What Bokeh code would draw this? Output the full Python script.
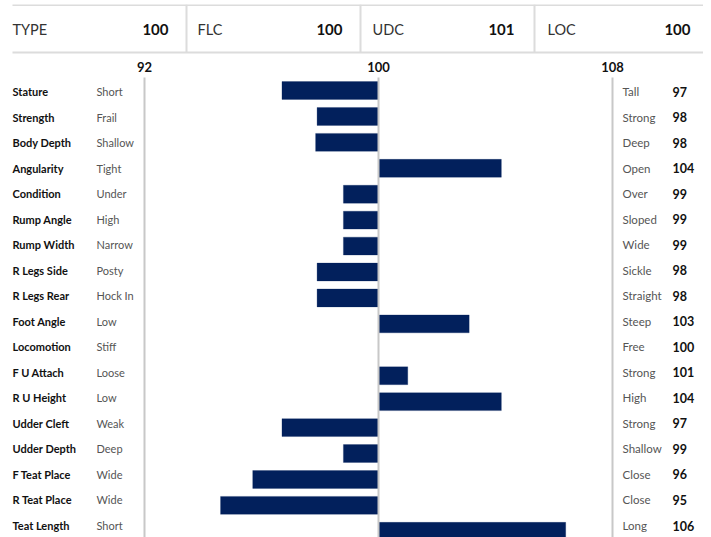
from bokeh.plotting import figure
from bokeh.models import Range1d, ColumnDataSource
from bokeh.core.properties import value
from bokeh.embed import file_html
from bokeh.resources import INLINE

# ---------------- data ----------------
header_names = ["TYPE", "FLC", "UDC", "LOC"]
header_scores = ["100", "100", "101", "100"]

axis_ticks = [92, 100, 108]

traits = ["Stature", "Strength", "Body Depth", "Angularity", "Condition",
          "Rump Angle", "Rump Width", "R Legs Side", "R Legs Rear", "Foot Angle",
          "Locomotion", "F U Attach", "R U Height", "Udder Cleft", "Udder Depth",
          "F Teat Place", "R Teat Place", "Teat Length"]
low_desc = ["Short", "Frail", "Shallow", "Tight", "Under", "High", "Narrow",
            "Posty", "Hock In", "Low", "Stiff", "Loose", "Low", "Weak", "Deep",
            "Wide", "Wide", "Short"]
high_desc = ["Tall", "Strong", "Deep", "Open", "Over", "Sloped", "Wide",
             "Sickle", "Straight", "Steep", "Free", "Strong", "High", "Strong",
             "Shallow", "Close", "Close", "Long"]
bar_values = [96.7, 97.9, 97.85, 104.2, 98.8, 98.8, 98.8, 97.9, 97.9, 103.1,
              100.0, 101.0, 104.2, 96.7, 98.8, 95.7, 94.6, 106.4]
score_labels = ["97", "98", "98", "104", "99", "99", "99", "98", "98", "103",
                "100", "101", "104", "97", "99", "96", "95", "106"]

# ---------------- geometry ----------------
W, H = 695, 533
SX = 29.25                      # px per unit
X0 = 92 - 136 / SX              # data x at canvas left
X1 = X0 + W / SX
SY = 25.93                      # px per bar row
Y0 = -(90 - 4) / SY             # data y at canvas top
Y1 = Y0 + H / SY

def dx(page_x):
    return X0 + (page_x - 8) / SX

def dy(page_y):
    return Y0 + (page_y - 4) / SY

FONT = value("Lato")
NAVY = "#02205c"

p = figure(width=W, height=H, output_backend="svg", toolbar_location=None,
           x_range=Range1d(X0, X1), y_range=Range1d(Y1, Y0),
           min_border=0, x_axis_location=None, y_axis_location=None)
p.grid.visible = False
p.outline_line_color = None
p.background_fill_color = "white"
p.border_fill_color = "white"
p.margin = (4, 0, 0, 8)

rows = list(range(len(traits)))
text_y = [dy(91 + 25.53 * i) for i in rows]

# ---------------- header ----------------
p.segment(x0=[dx(12)] * 2, x1=[dx(711)] * 2, y0=[dy(4.5), dy(52)], y1=[dy(4.5), dy(52)],
          line_color="#dcdcdc", line_width=2)
p.segment(x0=[dx(186), dx(360), dx(534)], x1=[dx(186), dx(360), dx(534)],
          y0=[dy(4)] * 3, y1=[dy(52)] * 3, line_color="#dcdcdc", line_width=2)
hsrc = ColumnDataSource(dict(
    name=header_names, score=header_scores,
    xl=[dx(12), dx(197), dx(372), dx(547)],
    xr=[dx(168), dx(342), dx(514), dx(690)],
    y=[dy(29)] * 4))
p.text(x="xl", y="y", text="name", source=hsrc, text_font=FONT,
       text_font_size="14.5px", text_color="#333333", text_baseline="middle", text_align="left")
p.text(x="xr", y="y", text="score", source=hsrc, text_font=FONT, text_font_style="bold",
       text_font_size="15px", text_color="#111111", text_baseline="middle", text_align="right")

# ---------------- axis ticks ----------------
p.text(x=axis_ticks, y=[dy(66)] * 3, text=[str(t) for t in axis_ticks], text_font=FONT,
       text_font_style="bold", text_font_size="13px", text_color="#111111",
       text_baseline="middle", text_align="center")

# ---------------- bars ----------------
src = ColumnDataSource(dict(y=rows, ty=text_y, v=bar_values, base=[100] * len(rows),
                            trait=traits, low=low_desc, high=high_desc, score=score_labels))
p.hbar(y="y", left="base", right="v", height=0.69, source=src,
       fill_color=NAVY, line_color=NAVY, line_alpha=0.5, line_width=0.5)

# vertical guide lines
p.segment(x0=axis_ticks, x1=axis_ticks, y0=[dy(77)] * 3, y1=[Y1] * 3,
          line_color="#c8c8c8", line_width=2)

# ---------------- row texts ----------------
p.text(x=dx(12), y="ty", text="trait", source=src, text_font=FONT, text_font_style="bold",
       text_font_size="11px", text_color="#111111", text_baseline="middle")
p.text(x=dx(96), y="ty", text="low", source=src, text_font=FONT,
       text_font_size="11px", text_color="#555555", text_baseline="middle")
p.text(x=dx(622), y="ty", text="high", source=src, text_font=FONT,
       text_font_size="11.5px", text_color="#555555", text_baseline="middle")
p.text(x=dx(672), y="ty", text="score", source=src, text_font=FONT, text_font_style="bold",
       text_font_size="12.5px", text_color="#111111", text_baseline="middle")

open("out.html", "w").write(file_html(p, INLINE))
